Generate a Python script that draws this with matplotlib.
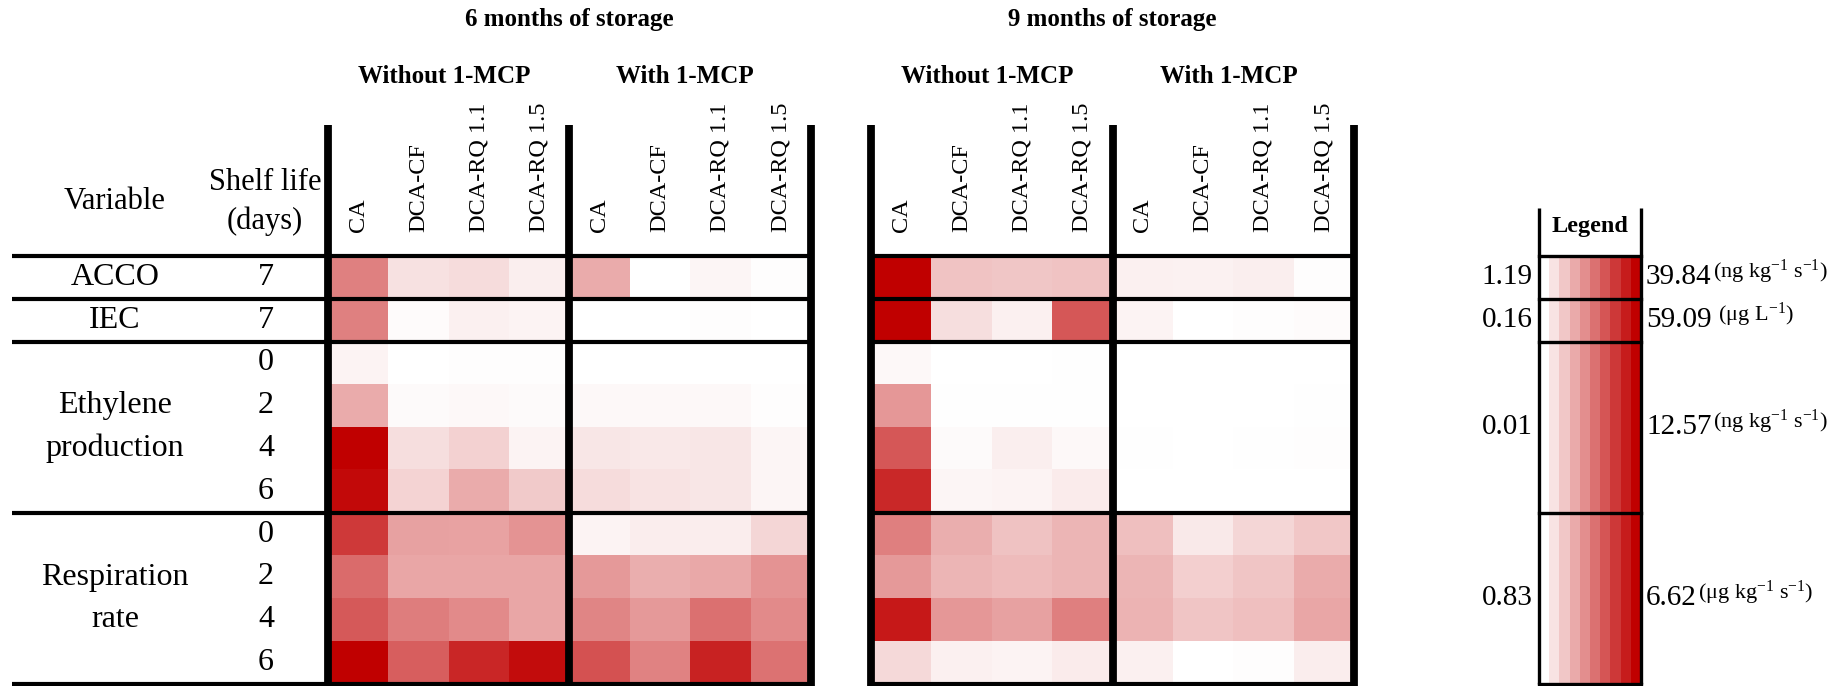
import numpy as np
import matplotlib
matplotlib.use("Agg")
import matplotlib.pyplot as plt
from matplotlib.colors import LinearSegmentedColormap

# ---------------- data ----------------
periods = ["6 months of storage", "9 months of storage"]
treatments = ["Without 1-MCP", "With 1-MCP"]
atmospheres = ["CA", "DCA-CF", "DCA-RQ 1.1", "DCA-RQ 1.5"]

variables = ["ACCO", "IEC", "Ethylene\nproduction", "Respiration\nrate"]
shelf_life = [["7"], ["7"], ["0", "2", "4", "6"], ["0", "2", "4", "6"]]

legend_min = [1.19, 0.16, 0.01, 0.83]
legend_max = [39.84, 59.09, 12.57, 6.62]
legend_units = [r"(ng kg$^{-1}$ s$^{-1}$)", r" (μg L$^{-1}$)",
                r"(ng kg$^{-1}$ s$^{-1}$)", r"(μg kg$^{-1}$ s$^{-1}$)"]

# columns: CA, DCA-CF, DCA-RQ 1.1, DCA-RQ 1.5 (without 1-MCP), then the same with 1-MCP
acco_6m = [20.5, 5.8, 6.6, 3.9, 13.9, 1.19, 2.7, 1.6]
acco_9m = [39.84, 10.2, 9.9, 10.1, 3.5, 3.4, 3.9, 1.6]

iec_6m = [29.6, 1.3, 3.7, 3.1, 0.16, 0.2, 0.8, 0.2]
iec_9m = [59.09, 7.8, 3.7, 39.0, 3.1, 0.3, 0.8, 1.3]

ethylene_6m = [[0.64, 0.01, 0.14, 0.14, 0.01, 0.01, 0.01, 0.01],
               [4.15, 0.26, 0.39, 0.26, 0.39, 0.39, 0.39, 0.14],
               [12.57, 1.64, 2.27, 0.64, 1.27, 1.14, 1.27, 0.51],
               [12.07, 2.15, 4.15, 2.65, 1.77, 1.39, 1.27, 0.51]]
ethylene_9m = [[0.39, 0.01, 0.01, 0.07, 0.01, 0.01, 0.01, 0.01],
               [5.16, 0.07, 0.07, 0.07, 0.01, 0.01, 0.01, 0.07],
               [8.30, 0.26, 0.89, 0.39, 0.07, 0.01, 0.07, 0.14],
               [10.56, 0.51, 0.64, 1.01, 0.01, 0.01, 0.01, 0.01]]

respiration_6m = [[5.29, 2.97, 2.95, 3.26, 1.12, 1.24, 1.24, 1.76],
                  [4.19, 2.86, 2.86, 2.86, 3.15, 2.68, 2.80, 3.26],
                  [4.59, 3.78, 3.49, 2.86, 3.61, 3.15, 4.07, 3.49],
                  [6.62, 4.48, 5.75, 6.33, 4.77, 3.67, 5.81, 4.01]]
respiration_9m = [[3.73, 2.68, 2.22, 2.51, 2.28, 1.35, 1.76, 2.10],
                  [3.15, 2.51, 2.39, 2.51, 2.51, 1.93, 2.16, 2.74],
                  [6.04, 3.20, 2.97, 3.73, 2.57, 2.16, 2.28, 2.86],
                  [1.70, 1.18, 1.12, 1.29, 1.18, 0.83, 0.89, 1.24]]

panels = [[acco_6m, iec_6m, ethylene_6m, respiration_6m],
          [acco_9m, iec_9m, ethylene_9m, respiration_9m]]

# ---------------- style / layout ----------------
FAMILY = ['Liberation Serif', 'DejaVu Serif']
plt.rcParams['font.family'] = FAMILY
plt.rcParams['mathtext.fontset'] = 'custom'
plt.rcParams['mathtext.rm'] = 'Liberation Serif'
plt.rcParams['mathtext.it'] = 'Liberation Serif:italic'
plt.rcParams['mathtext.bf'] = 'Liberation Serif:bold'

FIG_W, FIG_H, DPI = 1847, 686, 100
COL_W, ROW_H = 60.35, 42.8
GX0, GY0 = 328, 256   # pixel position of the grid origin

def px_x(p):
    return (p - GX0) / COL_W

def px_y(p):
    return (p - GY0) / ROW_H

cmap = LinearSegmentedColormap.from_list("white_red", ["#FFFFFF", "#C00000"])

fig = plt.figure(figsize=(FIG_W / DPI, FIG_H / DPI), dpi=DPI)
ax = fig.add_axes([0, 0, 1, 1])
ax.axis('off')

def label(x, y, s, **kw):
    kw.setdefault('family', FAMILY)
    return ax.text(x, y, s, **kw)

def panel_matrix(blocks):
    rows = []
    for vals, lo, hi in zip(blocks, legend_min, legend_max):
        arr = np.atleast_2d(np.asarray(vals, dtype=float))
        rows.append((arr - lo) / (hi - lo))
    return np.clip(np.vstack(rows), 0, 1)

n_rows = sum(len(d) for d in shelf_life)
row_bounds = [0]
for d in shelf_life:
    row_bounds.append(row_bounds[-1] + len(d))

panel_x0 = [0, 9]
H_LW, V_LW = 3.0, 5.6
TITLE_FS, HEAD_FS, COL_FS, ROW_FS = 18, 18, 17.5, 23

for x0, blocks, title in zip(panel_x0, panels, periods):
    M = panel_matrix(blocks)
    ax.imshow(M, cmap=cmap, vmin=0, vmax=1, extent=(x0, x0 + 8, n_rows, 0),
              aspect='auto', interpolation='nearest', zorder=1)
    left = px_x(12) if x0 == 0 else x0
    for r in row_bounds:
        ax.plot([left, x0 + 8], [r, r], color='black', lw=H_LW,
                solid_capstyle='butt', zorder=3)
    for xv in (x0, x0 + 4, x0 + 8):
        ax.plot([xv, xv], [px_y(125), px_y(FIG_H)], color='black', lw=V_LW,
                solid_capstyle='butt', zorder=4)
    label(x0 + 4, px_y(20), title, ha='center', va='center',
          fontsize=TITLE_FS, fontweight='bold')
    for g, tr in enumerate(treatments):
        label(x0 + 2 + 4 * g - 0.08, px_y(77), tr, ha='center', va='center',
              fontsize=HEAD_FS, fontweight='bold')
        for c, atm in enumerate(atmospheres):
            label(x0 + 4 * g + c + 0.5, px_y(232), atm, rotation=90,
                  ha='center', va='bottom', fontsize=COL_FS)

# left header
label(px_x(115), px_y(202), "Variable", ha='center', va='center', fontsize=ROW_FS - 1)
label(px_x(265), px_y(183), "Shelf life", ha='center', va='center', fontsize=ROW_FS - 1)
label(px_x(265), px_y(221), "(days)", ha='center', va='center', fontsize=ROW_FS - 1)

# row labels
for var, days, r0 in zip(variables, shelf_life, row_bounds[:-1]):
    n = len(days)
    lines = var.split("\n")
    if len(lines) == 1:
        ys = [r0 + n / 2]
    else:
        ys = [r0 + n / 2 - 0.5, r0 + n / 2 + 0.5]
    for line, y in zip(lines, ys):
        label(px_x(115), y, line, ha='center', va='center', fontsize=ROW_FS)
    for i, d in enumerate(days):
        label(px_x(266), r0 + i + 0.5, d, ha='center', va='center', fontsize=ROW_FS)

# ---------------- legend ----------------
LEG_X0, LEG_X1 = px_x(1539), px_x(1641)
stripes = np.linspace(0, 1, 10)[None, :]
ax.imshow(stripes, cmap=cmap, vmin=0, vmax=1, extent=(LEG_X0, LEG_X1, n_rows, 0),
          aspect='auto', interpolation='nearest', zorder=1)
L_LW = 2.4
for r in row_bounds:
    ax.plot([LEG_X0, LEG_X1], [r, r], color='black', lw=L_LW,
            solid_capstyle='projecting', zorder=3)
for xv in (LEG_X0, LEG_X1):
    ax.plot([xv, xv], [px_y(208), n_rows], color='black', lw=L_LW,
            solid_capstyle='butt', zorder=4)
label((LEG_X0 + LEG_X1) / 2, px_y(227), "Legend", ha='center', va='center',
      fontsize=17.5, fontweight='bold')

for lo, hi, unit, r0, r1 in zip(legend_min, legend_max, legend_units,
                                row_bounds[:-1], row_bounds[1:]):
    yc = (r0 + r1) / 2
    label(px_x(1533), yc, f"{lo:.2f}", ha='right', va='center', fontsize=21)
    t = label(px_x(1646), yc, f"{hi:.2f}", ha='left', va='center', fontsize=21)
    ax.annotate(unit, xy=(1, 0), xycoords=t, xytext=(1, 3), family=FAMILY,
                textcoords='offset points', ha='left', va='bottom', fontsize=16)

ax.set_xlim(-GX0 / COL_W, (FIG_W - GX0) / COL_W)
ax.set_ylim((FIG_H - GY0) / ROW_H, -GY0 / ROW_H)

fig.savefig("out.png", dpi=DPI, facecolor='white')
